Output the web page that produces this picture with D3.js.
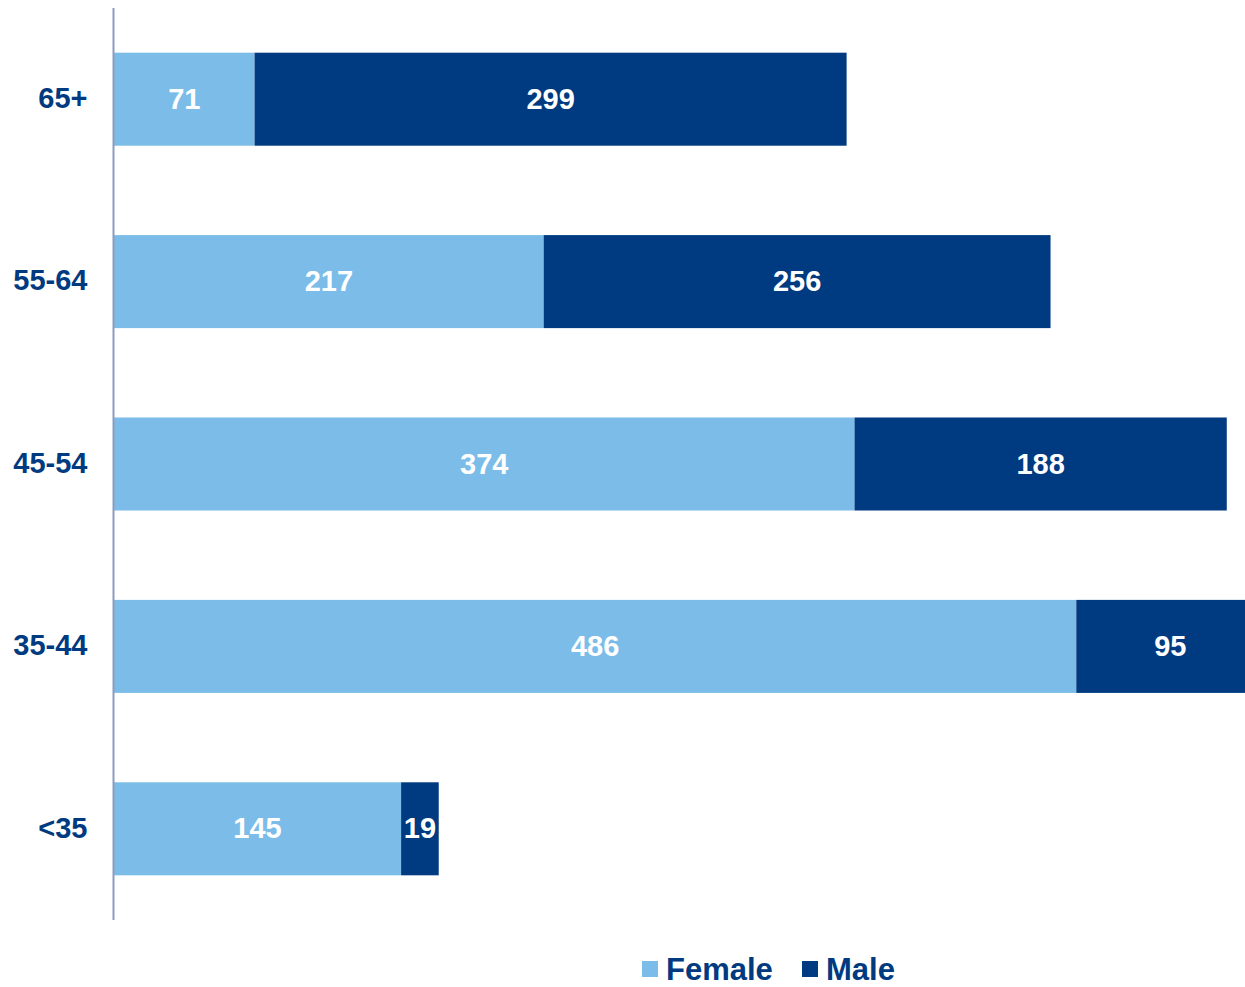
<!DOCTYPE html>
<html>
<head>
<meta charset="utf-8">
<script src="https://cdn.jsdelivr.net/npm/d3@7"></script>
<style>
  html, body { margin: 0; padding: 0; background: #fff; }
  svg { display: block; font-family: "Liberation Sans", Arial, sans-serif; font-weight: bold; }
</style>
</head>
<body>
<svg id="chart" width="1245" height="987"></svg>
<script>
// Age groups, top to bottom
const ageGroups = ["65+", "55-64", "45-54", "35-44", "<35"];
const female = [71, 217, 374, 486, 145];
const male = [299, 256, 188, 95, 19];
const seriesNames = ["Female", "Male"];
const seriesColors = ["#7BBDE8", "#003A80"];

const svg = d3.select("#chart");
const W = 1245, H = 987;
const left = 114;

const y = d3.scaleBand()
  .domain(ageGroups)
  .range([8, 920])
  .paddingInner(0.49)
  .paddingOuter(0.245);

const x = d3.scaleLinear()
  .domain([0, 600])
  .range([left, left + 1188]);

const rows = ageGroups.map((g, i) => ({ group: g, values: [female[i], male[i]] }));

// Stacked segments with their value labels
const g = svg.append("g");
rows.forEach(row => {
  let acc = 0;
  row.values.forEach((v, s) => {
    const x0 = x(acc), x1 = x(acc + v);
    g.append("rect")
      .attr("x", x0)
      .attr("y", y(row.group))
      .attr("width", Math.max(0, Math.min(x1, W) - x0))
      .attr("height", y.bandwidth())
      .attr("fill", seriesColors[s]);
    g.append("text")
      .attr("x", (x0 + x1) / 2)
      .attr("y", y(row.group) + y.bandwidth() / 2)
      .attr("dy", "0.33em")
      .attr("text-anchor", "middle")
      .attr("fill", "#fff")
      .attr("font-size", 29)
      .text(v);
    acc += v;
  });
});

// Category axis
const axis = d3.axisLeft(y).tickSize(0).tickPadding(26);
const ax = svg.append("g").attr("transform", `translate(${left - 0.5},0)`).call(axis);
ax.select(".domain").attr("stroke", "#8E9BBF").attr("stroke-width", 2).attr("d", "M0,8V920");
ax.selectAll("text")
  .attr("fill", "#003A80")
  .attr("font-size", 29)
  .attr("font-family", "Liberation Sans, Arial, sans-serif")
  .attr("font-weight", "bold")
  .attr("dy", "0.3em");

// Legend
const legendPos = [642, 802];
const lg = svg.append("g");
seriesNames.forEach((name, i) => {
  lg.append("rect")
    .attr("x", legendPos[i])
    .attr("y", 961)
    .attr("width", 16)
    .attr("height", 16)
    .attr("fill", seriesColors[i]);
  lg.append("text")
    .attr("x", legendPos[i] + 24)
    .attr("y", 980)
    .attr("fill", "#003A80")
    .attr("font-size", 31)
    .text(name);
});
</script>
</body>
</html>
